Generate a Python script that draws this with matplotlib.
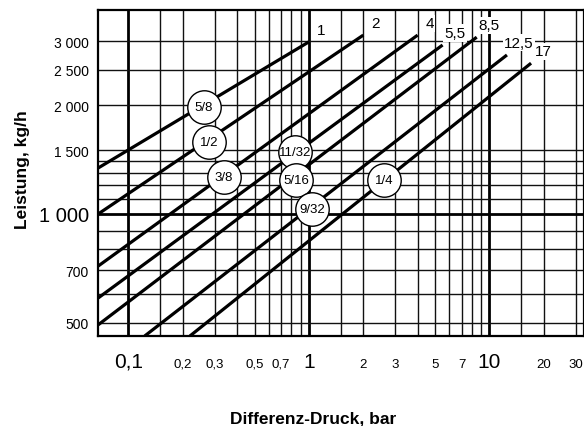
import matplotlib
matplotlib.use('Agg')
import matplotlib.pyplot as plt

plt.rcParams['font.family'] = ['Liberation Sans', 'DejaVu Sans']

# Linien: Anfang (am Rand des Diagramms) und Ende (max. Differenz-Druck)
start_dp = [0.068, 0.068, 0.068, 0.068, 0.068, 0.123, 0.219]
start_kg = [1340, 1000, 718, 586, 494, 460, 460]
end_dp = [1, 2, 4, 5.5, 8.5, 12.5, 17]
end_kg = [2990, 3120, 3120, 2930, 3080, 2750, 2610]
end_labels = ['1', '2', '4', '5,5', '8,5', '12,5', '17']

# Düsengrößen (Kreise)
duese = ['5/8', '1/2', '3/8', '11/32', '5/16', '9/32', '1/4']
duese_dp = [0.262, 0.279, 0.338, 0.836, 0.847, 1.04, 2.60]
duese_kg = [1975, 1581, 1265, 1483, 1242, 1032, 1242]

# Gitter und Achsenbeschriftung
x_grid = [0.15, 0.2, 0.3, 0.4, 0.5, 0.6, 0.7, 0.8, 0.9, 1.5, 2, 3, 4, 5, 6, 7, 8, 9, 15, 20, 30]
x_grid_major = [0.1, 1, 10]
y_grid = [500, 600, 700, 800, 900, 1100, 1200, 1300, 1400, 1500, 2000, 2500, 3000]
y_grid_major = [1000]
xticks = [0.1, 0.2, 0.3, 0.5, 0.7, 1, 2, 3, 5, 7, 10, 20, 30]
xticklabels = ['0,1', '0,2', '0,3', '0,5', '0,7', '1', '2', '3', '5', '7', '10', '20', '30']
yticks = [500, 700, 1000, 1500, 2000, 2500, 3000]
yticklabels = ['500', '700', '1 000', '1 500', '2 000', '2 500', '3 000']

fig = plt.figure(figsize=(5.84, 4.27), dpi=100)
ax = fig.add_axes([98/584, 90/427, 486/584, 326/427])
ax.set_xscale('log')
ax.set_yscale('log')
ax.set_xlim(0.0678, 33.4)
ax.set_ylim(460, 3661)

for x in x_grid:
    ax.axvline(x, color='#111111', lw=1.0, zorder=1)
for x in x_grid_major:
    ax.axvline(x, color='black', lw=2.0, zorder=1)
for y in y_grid:
    ax.axhline(y, color='#111111', lw=1.0, zorder=1)
for y in y_grid_major:
    ax.axhline(y, color='black', lw=2.0, zorder=1)

# Kennlinien
for i in range(len(end_dp)):
    ax.plot([start_dp[i], end_dp[i]], [start_kg[i], end_kg[i]], color='black', lw=2.3,
            solid_capstyle='butt', zorder=3)
    ax.annotate(end_labels[i], (end_dp[i], end_kg[i]), xytext=(12, 12), textcoords='offset pixels',
                ha='center', va='center', fontsize=11, zorder=5,
                bbox=dict(boxstyle='square,pad=0.1', fc='white', ec='none'))

# Kreise mit Düsengröße
ax.scatter(duese_dp, duese_kg, s=580, facecolor='white', edgecolor='black', linewidth=1.0, zorder=6)
for i in range(len(duese)):
    ax.text(duese_dp[i], duese_kg[i], duese[i], ha='center', va='center', fontsize=9.5, zorder=7)

ax.minorticks_off()
ax.set_xticks(xticks)
ax.set_xticklabels(xticklabels)
ax.set_yticks(yticks)
ax.set_yticklabels(yticklabels)
ax.tick_params(axis='both', length=0)
ax.tick_params(axis='x', pad=22)
ax.tick_params(axis='y', pad=6.5)
for lab in ax.get_xticklabels():
    lab.set_va('baseline')
    if lab.get_text() in ['0,1', '1', '10']:
        lab.set_fontsize(15)
    else:
        lab.set_fontsize(9.5)
for lab in ax.get_yticklabels():
    if lab.get_text() == '1 000':
        lab.set_fontsize(14.5)
    else:
        lab.set_fontsize(10)

for s in ['left', 'top', 'bottom', 'right']:
    ax.spines[s].set_linewidth(1.6)
    ax.spines[s].set_zorder(4)

fig.text(313/584, 1 - 419/427, 'Differenz-Druck, bar', ha='center', va='center',
         fontsize=12.5, fontweight='bold')
fig.text(23/584, 1 - 170/427, 'Leistung, kg/h', ha='center', va='center', rotation=90,
         fontsize=12.5, fontweight='bold')

plt.savefig('out.png', dpi=100)
